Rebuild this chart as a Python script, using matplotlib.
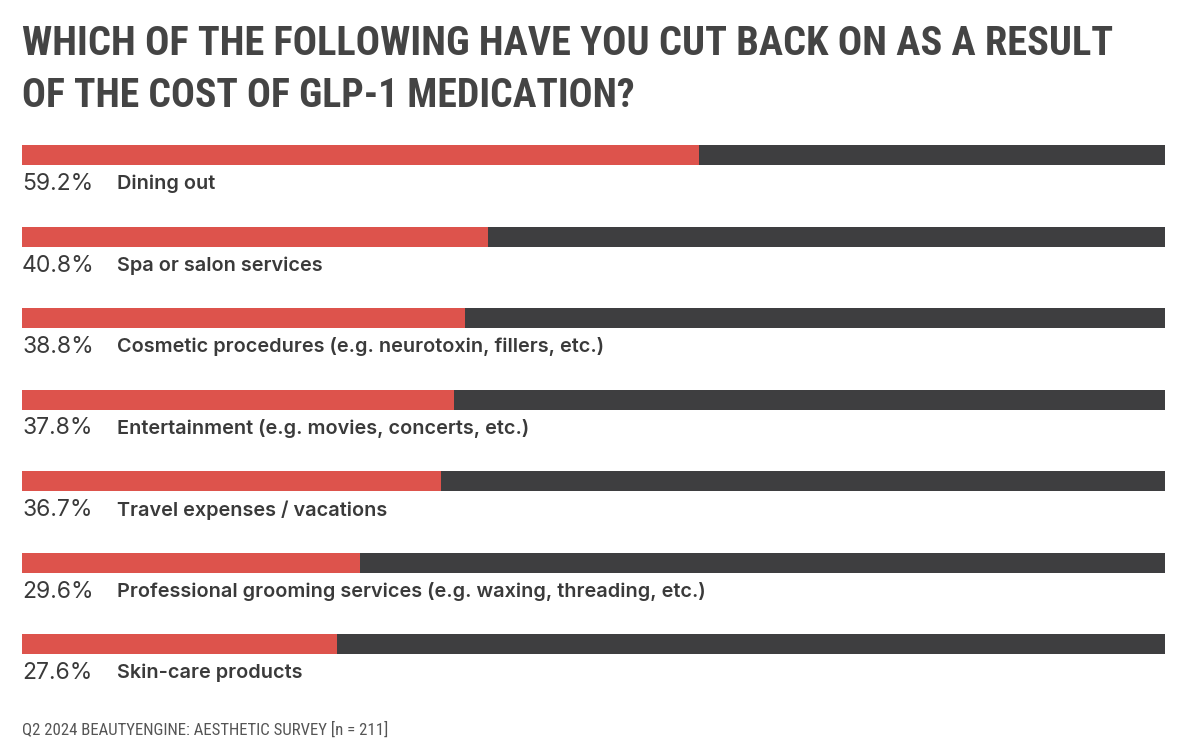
import matplotlib
matplotlib.use('Agg')
import matplotlib.pyplot as plt
from matplotlib import font_manager

# survey answers, top to bottom
categories = [
    'Dining out',
    'Spa or salon services',
    'Cosmetic procedures (e.g. neurotoxin, fillers, etc.)',
    'Entertainment (e.g. movies, concerts, etc.)',
    'Travel expenses / vacations',
    'Professional grooming services (e.g. waxing, threading, etc.)',
    'Skin-care products',
]
percent = [59.2, 40.8, 38.8, 37.8, 36.7, 29.6, 27.6]

title_lines = ['WHICH OF THE FOLLOWING HAVE YOU CUT BACK ON AS A RESULT',
               'OF THE COST OF GLP-1 MEDICATION?']
footer = 'Q2 2024 BEAUTYENGINE: AESTHETIC SURVEY [n = 211]'

RED = '#dd534c'
DARK = '#3e3e40'
TEXT = '#3a3a3a'
W, H = 1200, 754

# pick a narrow face if one is installed, otherwise condensed DejaVu
names = set(f.name for f in font_manager.fontManager.ttflist)
narrow = 'DejaVu Sans'
for cand in ['Roboto Condensed', 'Liberation Sans Narrow', 'Open Sans Condensed',
             'Noto Sans Condensed', 'DejaVu Sans Condensed']:
    if cand in names:
        narrow = cand
        break

fig = plt.figure(figsize=(W / 100, H / 100), dpi=100)
fig.patch.set_facecolor('white')
renderer = fig.canvas.get_renderer()


def fit_text(x_px, base_px, s, width_px, **kw):
    # put a text and resize it so it spans width_px
    t = fig.text(x_px / W, 1 - base_px / H, s, va='baseline', ha='left', **kw)
    w = t.get_window_extent(renderer).width
    t.set_fontsize(t.get_fontsize() * width_px / w)
    return t


fit_text(22, 55, title_lines[0], 1091, fontsize=30, fontweight='bold',
         family=narrow, fontstretch='condensed', color='#444444')
fit_text(22, 107, title_lines[1], 612, fontsize=30, fontweight='bold',
         family=narrow, fontstretch='condensed', color='#444444')

# bar axes: each row is 81.5 px apart, first bar centred at y=155 px
step = 81.5
top_px = 155 - step / 2
bot_px = 644 + step / 2
ax = fig.add_axes([22 / W, 1 - bot_px / H, 1143 / W, (bot_px - top_px) / H])
n = len(categories)
ys = list(range(n))
bar_h = 20 / step
ax.barh(ys, [100] * n, height=bar_h, color=DARK, linewidth=0)
ax.barh(ys, percent, height=bar_h, color=RED, linewidth=0)
ax.set_xlim(0, 100)
ax.set_ylim(n - 0.5, -0.5)
ax.axis('off')

for y, p, c in zip(ys, percent, categories):
    ax.text(0, y + 29 / step, '%.1f%%' % p, fontsize=16.5, family='Inter',
            color=TEXT, va='center', ha='left')
    ax.text(95 / 1143 * 100, y + 29 / step, c, fontsize=14.3,
            family='Inter', fontweight='semibold', color=TEXT,
            va='center', ha='left')

fit_text(22, 735, footer, 365, fontsize=12, family=narrow,
         fontstretch='condensed', color='#555555')

fig.savefig('out.png', dpi=100)
